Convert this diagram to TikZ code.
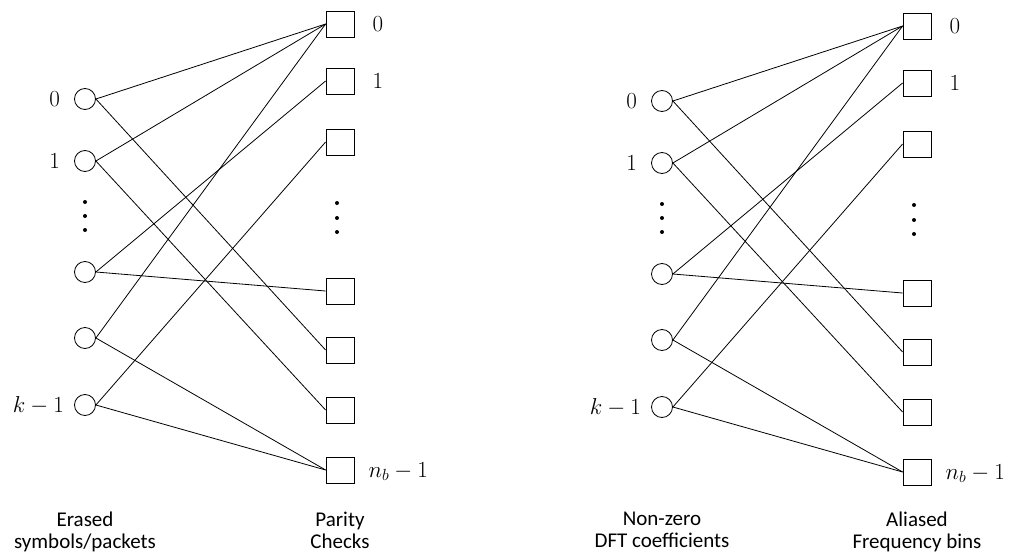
\RequirePackage{fix-cm}
\documentclass[tikz,border=0pt]{standalone}
\usepackage{fontspec}
\setsansfont{Carlito}
\begin{document}
\begin{tikzpicture}[x=1pt,y=-1pt,
  var/.style={circle,draw,line width=0.8pt,minimum size=21pt,inner sep=0pt},
  chk/.style={rectangle,draw,line width=0.8pt,minimum width=28pt,minimum height=26pt,inner sep=0pt},
  dotmark/.style={circle,fill,minimum size=4pt,inner sep=0pt},
  idx/.style={inner sep=0pt,font=\fontsize{23}{27}\selectfont,text height=14.8pt,text depth=0pt},
  edge/.style={line width=0.8pt},
  caption/.style={font=\sffamily\fontsize{21}{22}\selectfont,align=center,inner sep=0pt,anchor=north}]
\useasboundingbox (0,0) rectangle (1010,554);

% two copies of the same bipartite graph
\foreach \g/\dx/\dy in {L/0/0,R/577/2}{
  \begin{scope}[shift={(\dx,\dy)}]
    % variable nodes (circles)
    \foreach \i/\y in {0/99,1/161,3/272,4/338,5/405}
      \node[var] (\g c\i) at (85,\y) {};
    % check nodes (squares)
    \foreach \j/\y in {0/24,1/81,2/142,3/291,4/350,5/410,6/470}
      \node[chk] (\g s\j) at (340,\y) {};
    % vertical ellipses
    \foreach \k/\y in {1/202,2/216,3/230}
      \node[dotmark] (\g cd\k) at (85,\y) {};
    \foreach \k/\y in {1/203,2/218,3/232}
      \node[dotmark] (\g sd\k) at (337,\y) {};
    % indices
    \node[idx,anchor=east] (\g lc0) at ([xshift=-14pt]\g c0.west) {$0$};
    \node[idx,anchor=east] (\g lc1) at ([xshift=-14pt]\g c1.west) {$1$};
    \node[idx,anchor=east] (\g lc5) at ([xshift=-10pt]\g c5.west) {$k-1$};
    \node[idx,anchor=west] (\g ls0) at ([xshift=18pt]\g s0.east) {$0$};
    \node[idx,anchor=west] (\g ls1) at ([xshift=18pt]\g s1.east) {$1$};
    \node[idx,anchor=west] (\g ls6) at ([xshift=14pt]\g s6.east) {$n_b-1$};
    % edges
    \foreach \a/\b in {0/0,0/4,1/0,1/5,3/1,3/3,4/0,4/6,5/2,5/6}
      \draw[edge] (\g c\a.east) -- (\g s\b.west);
  \end{scope}
}

% captions
\node[caption] (capL1) at (85,512) {Erased\\symbols/packets};
\node[caption] (capL2) at (340,512) {Parity\\Checks};
\node[caption] (capR1) at (662,512) {Non-zero\\DFT coefficients};
\node[caption] (capR2) at (917,512) {Aliased\\Frequency bins};
\end{tikzpicture}
\end{document}
